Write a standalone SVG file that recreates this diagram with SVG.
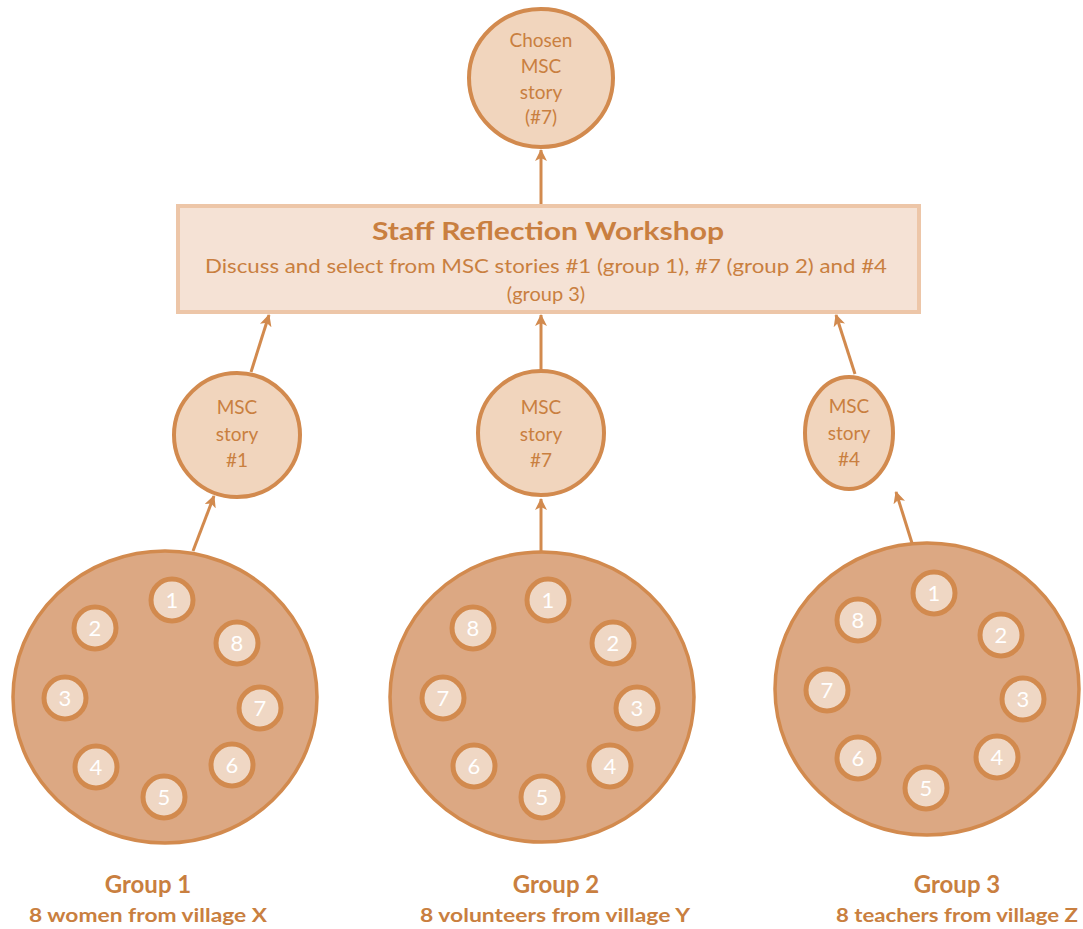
<svg xmlns="http://www.w3.org/2000/svg" width="1083" height="929" viewBox="0 0 1083 929">
  <style>
    .txt { font-family: "Lato", "Open Sans", "Liberation Sans", sans-serif; fill: #c97f40; text-anchor: middle; }
    .lbl { font-size: 19px; }
    .title { font-size: 25px; font-weight: bold; }
    .sub { font-size: 20px; }
    .gname { font-size: 24px; font-weight: bold; }
    .gdesc { font-size: 19px; font-weight: bold; }
    .story { fill: #f1d5bd; stroke: #d28a4e; stroke-width: 4; }
    .group { fill: #dca883; stroke: #d28a4e; stroke-width: 3.5; }
    .seat { fill: #efd7c4; stroke: #d28a4e; stroke-width: 5; }
    .num { font-family: "Lato", "Open Sans", "Liberation Sans", sans-serif; font-size: 22px; fill: #ffffff; text-anchor: middle; }
    .conn { stroke: #d28a4e; stroke-width: 3; fill: none; marker-end: url(#head); }
  </style>
  <defs>
    <marker id="head" viewBox="0 0 12 12" refX="11" refY="6" markerWidth="12" markerHeight="12" markerUnits="userSpaceOnUse" orient="auto">
      <path d="M0,0 L12,6 L0,12 L3,6 Z" fill="#d28a4e"/>
    </marker>
  </defs>

  <!-- connectors -->
  <g id="connectors">
    <line class="conn" x1="541" y1="204" x2="541" y2="150"/>
    <line class="conn" x1="251" y1="372" x2="269" y2="315"/>
    <line class="conn" x1="541" y1="370" x2="541" y2="315"/>
    <line class="conn" x1="855" y1="374" x2="836" y2="315"/>
    <line class="conn" x1="193" y1="551" x2="214" y2="496"/>
    <line class="conn" x1="541" y1="551" x2="541" y2="499"/>
    <line class="conn" x1="912" y1="543" x2="896" y2="492"/>
  </g>

  <!-- top: chosen story -->
  <g id="chosen">
    <ellipse class="story" cx="541" cy="78" rx="72" ry="69"/>
    <text class="txt lbl" x="541" y="47">Chosen</text>
    <text class="txt lbl" x="541" y="73">MSC</text>
    <text class="txt lbl" x="541" y="99">story</text>
    <text class="txt lbl" x="541" y="124">(#7)</text>
  </g>

  <!-- workshop box -->
  <g id="workshop">
    <rect x="178" y="206" width="741" height="106" fill="#f5e2d5" stroke="#edc6a8" stroke-width="4"/>
    <text class="txt title" x="548" y="240" textLength="352" lengthAdjust="spacingAndGlyphs">Staff Reflection Workshop</text>
    <text class="txt sub" x="546" y="273" textLength="682" lengthAdjust="spacingAndGlyphs">Discuss and  select from  MSC stories #1 (group  1), #7 (group  2) and  #4</text>
    <text class="txt sub" x="546" y="301">(group  3)</text>
  </g>

  <!-- selected stories per group -->
  <g id="story1">
    <ellipse class="story" cx="237" cy="435" rx="63" ry="62"/>
    <text class="txt lbl" x="237" y="414">MSC</text>
    <text class="txt lbl" x="237" y="441">story</text>
    <text class="txt lbl" x="237" y="467">#1</text>
  </g>
  <g id="story7">
    <ellipse class="story" cx="541" cy="433" rx="63" ry="62"/>
    <text class="txt lbl" x="541" y="414">MSC</text>
    <text class="txt lbl" x="541" y="441">story</text>
    <text class="txt lbl" x="541" y="467">#7</text>
  </g>
  <g id="story4">
    <ellipse class="story" cx="849" cy="433" rx="44" ry="56"/>
    <text class="txt lbl" x="849" y="413">MSC</text>
    <text class="txt lbl" x="849" y="440">story</text>
    <text class="txt lbl" x="849" y="466">#4</text>
  </g>

  <!-- group 1 -->
  <g id="group1">
    <ellipse class="group" cx="165" cy="697" rx="152" ry="146"/>
    <circle class="seat" cx="172" cy="600" r="21"/><text class="num" x="172" y="608">1</text>
    <circle class="seat" cx="95" cy="628" r="21"/><text class="num" x="95" y="636">2</text>
    <circle class="seat" cx="237" cy="643" r="21"/><text class="num" x="237" y="651">8</text>
    <circle class="seat" cx="65" cy="698" r="21"/><text class="num" x="65" y="706">3</text>
    <circle class="seat" cx="260" cy="708" r="21"/><text class="num" x="260" y="716">7</text>
    <circle class="seat" cx="96" cy="767" r="21"/><text class="num" x="96" y="775">4</text>
    <circle class="seat" cx="232" cy="765" r="21"/><text class="num" x="232" y="773">6</text>
    <circle class="seat" cx="164" cy="797" r="21"/><text class="num" x="164" y="805">5</text>
    <text class="txt gname" x="148" y="893">Group 1</text>
    <text class="txt gdesc" x="148" y="922" textLength="238" lengthAdjust="spacingAndGlyphs">8 women from village X</text>
  </g>

  <!-- group 2 -->
  <g id="group2">
    <ellipse class="group" cx="542" cy="697" rx="152" ry="145"/>
    <circle class="seat" cx="548" cy="600" r="21"/><text class="num" x="548" y="608">1</text>
    <circle class="seat" cx="473" cy="628" r="21"/><text class="num" x="473" y="636">8</text>
    <circle class="seat" cx="613" cy="643" r="21"/><text class="num" x="613" y="651">2</text>
    <circle class="seat" cx="443" cy="698" r="21"/><text class="num" x="443" y="706">7</text>
    <circle class="seat" cx="637" cy="708" r="21"/><text class="num" x="637" y="716">3</text>
    <circle class="seat" cx="474" cy="766" r="21"/><text class="num" x="474" y="774">6</text>
    <circle class="seat" cx="610" cy="766" r="21"/><text class="num" x="610" y="774">4</text>
    <circle class="seat" cx="542" cy="797" r="21"/><text class="num" x="542" y="805">5</text>
    <text class="txt gname" x="556" y="893">Group 2</text>
    <text class="txt gdesc" x="555" y="922" textLength="270" lengthAdjust="spacingAndGlyphs">8 volunteers  from village Y</text>
  </g>

  <!-- group 3 -->
  <g id="group3">
    <ellipse class="group" cx="927" cy="689" rx="152" ry="146"/>
    <circle class="seat" cx="934" cy="593" r="21"/><text class="num" x="934" y="601">1</text>
    <circle class="seat" cx="858" cy="620" r="21"/><text class="num" x="858" y="628">8</text>
    <circle class="seat" cx="1001" cy="635" r="21"/><text class="num" x="1001" y="643">2</text>
    <circle class="seat" cx="827" cy="690" r="21"/><text class="num" x="827" y="698">7</text>
    <circle class="seat" cx="1023" cy="699" r="21"/><text class="num" x="1023" y="707">3</text>
    <circle class="seat" cx="858" cy="758" r="21"/><text class="num" x="858" y="766">6</text>
    <circle class="seat" cx="997" cy="757" r="21"/><text class="num" x="997" y="765">4</text>
    <circle class="seat" cx="926" cy="788" r="21"/><text class="num" x="926" y="796">5</text>
    <text class="txt gname" x="957" y="893">Group 3</text>
    <text class="txt gdesc" x="957" y="922" textLength="242" lengthAdjust="spacingAndGlyphs">8 teachers from village Z</text>
  </g>
</svg>
